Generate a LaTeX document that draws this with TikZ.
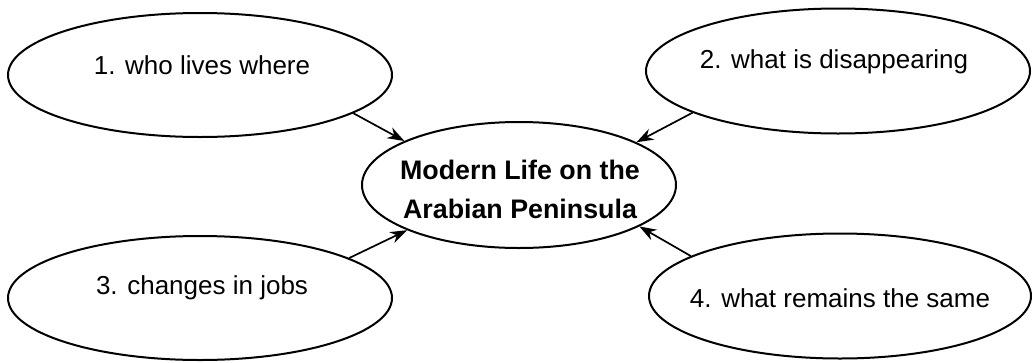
\documentclass[tikz,border=0pt]{standalone}
\usepackage{fontspec}
\setmainfont{Liberation Sans}
\usetikzlibrary{shapes.geometric,arrows.meta}
\tikzset{
  bubble/.style={draw, ellipse, line width=2pt, inner sep=0pt},
  lbl/.style={inner sep=0pt, font=\fontsize{26}{32}\selectfont},
  hub/.style={inner sep=0pt, align=center, font=\fontsize{26.8}{39}\selectfont\bfseries},
  link/.style={line width=1.7pt, -{Stealth[length=17pt,width=12pt]}}
}
\begin{document}
\begin{tikzpicture}[x=1pt,y=-1pt]
\useasboundingbox (0,0) rectangle (1032,362);
\node[bubble, minimum width=384pt, minimum height=124pt] (e1) at (200,75) {};
\node[bubble, minimum width=384pt, minimum height=125pt] (e2) at (838,71) {};
\node[bubble, minimum width=384pt, minimum height=124pt] (e3) at (200,298) {};
\node[bubble, minimum width=382pt, minimum height=125pt] (e4) at (840,296) {};
\node[bubble, minimum width=314pt, minimum height=126pt] (c) at (519,185) {};
\node[lbl] (t1) at (202,65) {1. who lives where};
\node[lbl] (t2) at (834,62) {2. what is disappearing};
\node[lbl] (t3) at (202,288) {3. changes in jobs};
\node[lbl] (t4) at (840,298) {4. what remains the same};
\node[hub] (tc) at (520,189) {Modern Life on the\\Arabian Peninsula};
\draw[link] (e1.-14.4) -- (c.159.7);
\draw[link] (e2.-164) -- (c.20.9);
\draw[link] (e3.15) -- (c.-158.1);
\draw[link] (e4.165) -- (c.-19.7);
\end{tikzpicture}
\end{document}
